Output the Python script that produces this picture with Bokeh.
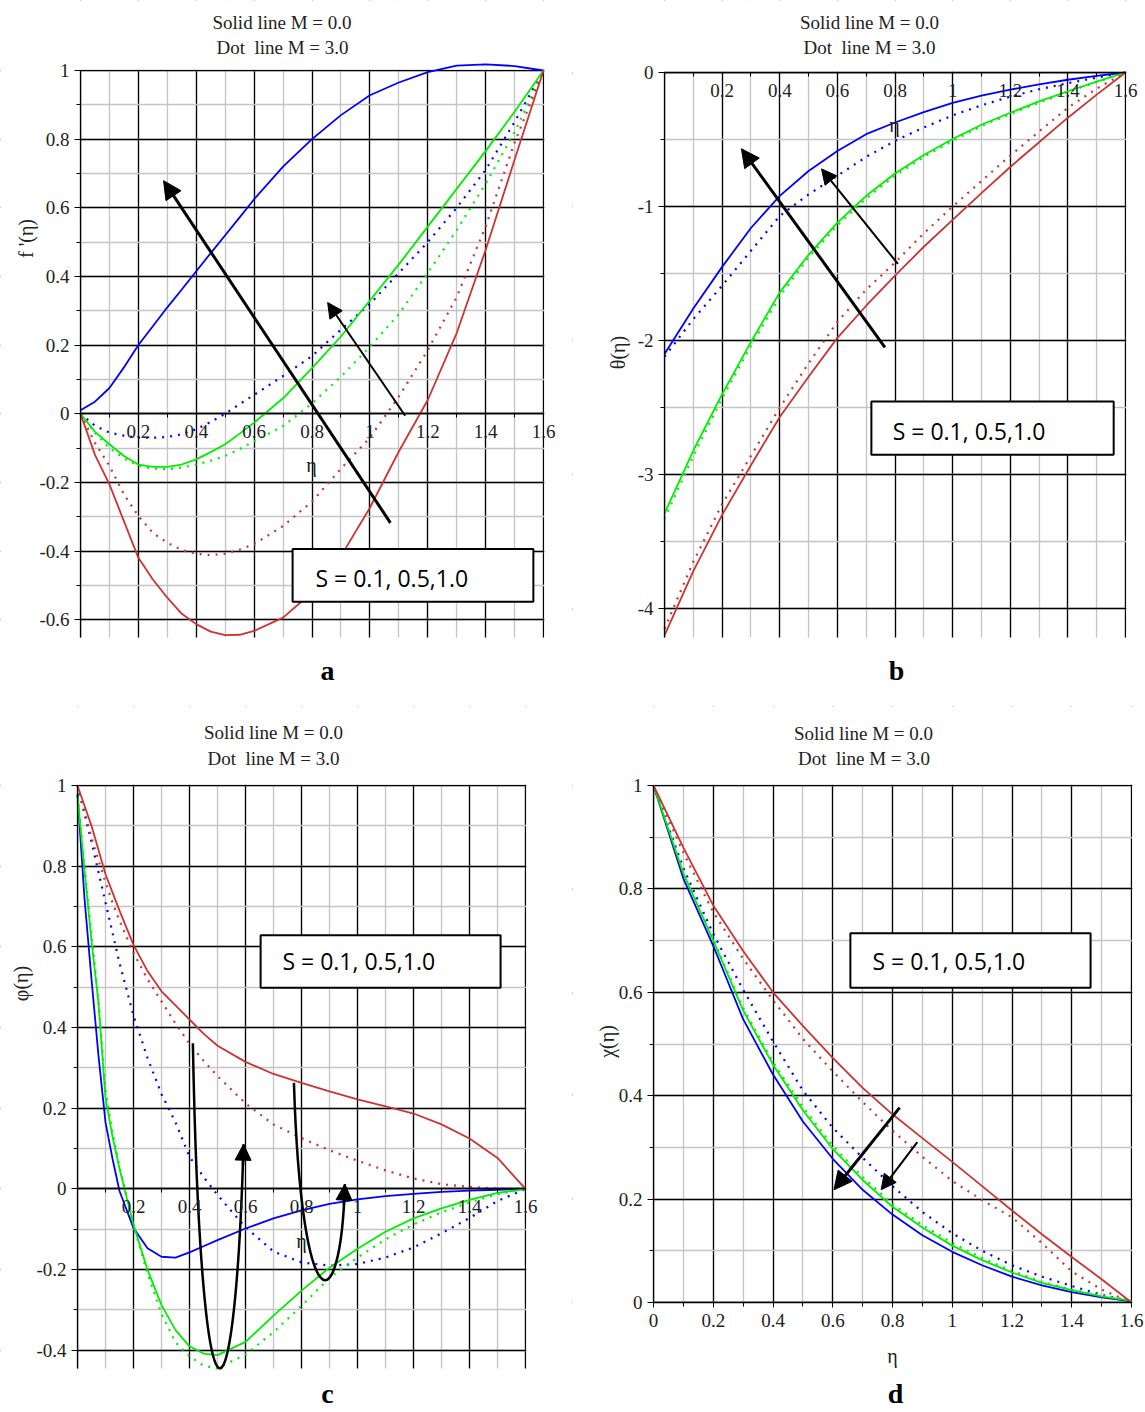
import numpy as np
from bokeh.plotting import figure
from bokeh.layouts import column, row
from bokeh.models import (Range1d, FixedTicker, BoxAnnotation, Label,
                          Arrow, NormalHead, CustomJSTickFormatter)
from bokeh.embed import file_html
from bokeh.resources import INLINE

# ---------------------------------------------------------------- data
eta = [0.0, 0.1, 0.2, 0.3, 0.4, 0.5, 0.6, 0.7, 0.8, 0.9, 1.0, 1.1, 1.2, 1.3, 1.4, 1.5, 1.6]

# (a) f'(eta)   M0 = solid (M = 0.0), M3 = dotted (M = 3.0)
eta_a = [0.0, 0.05, 0.1, 0.15, 0.2, 0.25, 0.3, 0.35, 0.4, 0.45, 0.5, 0.55, 0.6,
         0.7, 0.8, 0.9, 1.0, 1.1, 1.2, 1.3, 1.4, 1.5, 1.6]
a_blue_M0 = [0.01, 0.035, 0.075, 0.135, 0.2, 0.255, 0.31, 0.362, 0.415, 0.468, 0.52, 0.572, 0.625,
             0.72, 0.8, 0.87, 0.928, 0.965, 0.995, 1.014, 1.018, 1.013, 1.0]
a_green_M0 = [0.0, -0.053, -0.089, -0.123, -0.148, -0.155, -0.155, -0.148, -0.133, -0.112, -0.089, -0.058, -0.026,
              0.045, 0.133, 0.225, 0.33, 0.435, 0.545, 0.655, 0.765, 0.88, 1.0]
a_red_M0 = [0.0, -0.12, -0.206, -0.313, -0.42, -0.483, -0.536, -0.583, -0.613, -0.635, -0.645, -0.644, -0.633,
            -0.594, -0.521, -0.415, -0.274, -0.11, 0.04, 0.235, 0.477, 0.74, 1.0]
a_blue_M3 = [0.0, -0.035, -0.055, -0.064, -0.07, -0.07, -0.068, -0.06, -0.045, -0.024, 0.0, 0.028, 0.055,
             0.11, 0.168, 0.245, 0.32, 0.41, 0.5, 0.6, 0.71, 0.85, 1.0]
a_green_M3 = [0.0, -0.055, -0.1, -0.13, -0.152, -0.16, -0.162, -0.157, -0.148, -0.137, -0.123, -0.103, -0.08,
              -0.036, 0.03, 0.108, 0.195, 0.29, 0.41, 0.535, 0.67, 0.82, 1.0]
a_red_M3 = [0.0, -0.085, -0.152, -0.235, -0.298, -0.347, -0.376, -0.397, -0.408, -0.412, -0.408, -0.396, -0.38,
            -0.327, -0.256, -0.16, -0.07, 0.05, 0.185, 0.34, 0.545, 0.79, 1.0]

# (b) theta(eta)
b_blue_M0 = [-2.1, -1.76, -1.45, -1.16, -0.92, -0.735, -0.585, -0.46, -0.373, -0.295, -0.226, -0.172, -0.128, -0.088, -0.054, -0.025, 0.0]
b_green_M0 = [-3.29, -2.82, -2.40, -2.01, -1.64, -1.36, -1.12, -0.92, -0.754, -0.615, -0.496, -0.39, -0.30, -0.215, -0.14, -0.068, 0.0]
b_red_M0 = [-4.2, -3.72, -3.3, -2.93, -2.57, -2.27, -1.98, -1.74, -1.516, -1.3, -1.1, -0.9, -0.705, -0.52, -0.337, -0.165, 0.0]
b_blue_M3 = [-2.12, -1.84, -1.59, -1.33, -1.07, -0.91, -0.77, -0.63, -0.51, -0.41, -0.32, -0.245, -0.18, -0.125, -0.08, -0.038, 0.0]
b_green_M3 = [-3.33, -2.86, -2.43, -2.04, -1.67, -1.38, -1.14, -0.94, -0.77, -0.63, -0.51, -0.4, -0.31, -0.225, -0.145, -0.07, 0.0]
b_red_M3 = [-4.15, -3.65, -3.22, -2.86, -2.5, -2.17, -1.86, -1.62, -1.418, -1.2, -1.0, -0.81, -0.62, -0.44, -0.263, -0.12, 0.0]

# (c) phi(eta)  (finer steps near the wall)
eta_c = [0.0, 0.025, 0.05, 0.075, 0.1, 0.125, 0.15, 0.2, 0.25, 0.3, 0.35, 0.4, 0.45, 0.5,
         0.6, 0.7, 0.8, 0.9, 1.0, 1.1, 1.2, 1.3, 1.4, 1.5, 1.6]
c_blue_M0 = [0.98, 0.72, 0.52, 0.33, 0.165, 0.075, -0.005, -0.097, -0.147, -0.168, -0.17, -0.157, -0.142, -0.127,
             -0.098, -0.073, -0.053, -0.037, -0.026, -0.018, -0.012, -0.007, -0.004, -0.002, 0.0]
c_green_M0 = [0.975, 0.79, 0.615, 0.46, 0.225, 0.13, 0.05, -0.089, -0.2, -0.288, -0.35, -0.39, -0.408, -0.412,
              -0.379, -0.314, -0.252, -0.195, -0.148, -0.106, -0.073, -0.048, -0.027, -0.01, 0.0]
c_red_M0 = [1.0, 0.95, 0.9, 0.84, 0.78, 0.735, 0.69, 0.605, 0.54, 0.49, 0.455, 0.42, 0.385, 0.355,
            0.315, 0.285, 0.263, 0.242, 0.222, 0.205, 0.187, 0.16, 0.125, 0.077, 0.0]
c_blue_M3 = [1.0, 0.93, 0.86, 0.785, 0.71, 0.635, 0.56, 0.43, 0.325, 0.235, 0.165, 0.08, 0.03, -0.015,
             -0.095, -0.155, -0.182, -0.19, -0.186, -0.17, -0.145, -0.11, -0.072, -0.03, 0.0]
c_green_M3 = [0.975, 0.8, 0.63, 0.47, 0.245, 0.14, 0.055, -0.09, -0.21, -0.31, -0.38, -0.415, -0.438, -0.445,
              -0.41, -0.355, -0.29, -0.22, -0.17, -0.125, -0.088, -0.058, -0.033, -0.013, 0.0]
c_red_M3 = [1.0, 0.935, 0.87, 0.815, 0.76, 0.71, 0.665, 0.585, 0.52, 0.465, 0.41, 0.36, 0.318, 0.28,
            0.212, 0.16, 0.126, 0.096, 0.07, 0.046, 0.026, 0.012, 0.005, 0.001, 0.0]

# (d) chi(eta)
d_blue_M0 = [1.0, 0.82, 0.69, 0.548, 0.441, 0.35, 0.278, 0.218, 0.17, 0.13, 0.098, 0.072, 0.05, 0.033, 0.02, 0.01, 0.002]
d_green_M0 = [1.0, 0.83, 0.70, 0.565, 0.46, 0.372, 0.297, 0.237, 0.185, 0.145, 0.11, 0.082, 0.058, 0.038, 0.024, 0.012, 0.003]
d_red_M0 = [1.0, 0.88, 0.768, 0.68, 0.6, 0.535, 0.473, 0.415, 0.364, 0.318, 0.272, 0.225, 0.178, 0.132, 0.088, 0.045, 0.0]
d_blue_M3 = [1.0, 0.84, 0.713, 0.605, 0.505, 0.41, 0.338, 0.28, 0.225, 0.175, 0.134, 0.1, 0.072, 0.05, 0.032, 0.015, 0.002]
d_green_M3 = [1.0, 0.832, 0.703, 0.57, 0.465, 0.378, 0.303, 0.243, 0.19, 0.15, 0.115, 0.086, 0.061, 0.04, 0.025, 0.013, 0.003]
d_red_M3 = [1.0, 0.87, 0.755, 0.665, 0.585, 0.51, 0.447, 0.388, 0.332, 0.282, 0.235, 0.198, 0.165, 0.115, 0.06, 0.025, 0.0]

x_ticks_inner = [0.2, 0.4, 0.6, 0.8, 1.0, 1.2, 1.4, 1.6]
x_ticks_full = [0.0, 0.2, 0.4, 0.6, 0.8, 1.0, 1.2, 1.4, 1.6]
x_minor = [round(0.1 * i, 1) for i in range(17)]
title_lines = ["Solid line M = 0.0", "Dot\u00a0 line M = 3.0"]
legend_text = "S = 0.1, 0.5,1.0"

# ---------------------------------------------------------------- style
BLUE, GREEN, RED = "#0000ff", "#00ee00", "#cc3333"
SERIF = "Liberation Serif"
FMT = "return String(Math.round(tick*10)/10);"


class Panel:
    """Figure whose frame fills the canvas; the plotting box sits at pixels (L,R,T,B)."""

    def __init__(self, w, h, L, R, T, B, ytop, ybot, ymaj, ymin, xticks):
        self.L, self.T = L, T
        self.sx = (R - L) / 1.6
        self.sy = (B - T) / (ytop - ybot)
        self.ytop, self.ybot = ytop, ybot
        xr = Range1d(-L / self.sx, 1.6 + (w - R) / self.sx)
        yr = Range1d(ybot - (h - B) / self.sy, ytop + T / self.sy)
        p = figure(width=w, height=h, x_range=xr, y_range=yr, output_backend="svg",
                   toolbar_location=None, min_border=0)
        p.outline_line_color = None
        p.background_fill_color = "white"
        p.border_fill_color = "white"
        xt = FixedTicker(ticks=x_ticks_full, minor_ticks=x_minor)
        yt = FixedTicker(ticks=ymaj, minor_ticks=ymin)
        for g, t in ((p.xgrid, xt), (p.ygrid, yt)):
            g.ticker = t
            g.grid_line_color = "black"
            g.grid_line_width = 1.3
            g.minor_grid_line_color = "#c4c4c4"
            g.minor_grid_line_width = 1.3
        # white masks outside the plotting box (under the axes and curves)
        ex, ey = 0.8 / self.sx, 0.8 / self.sy
        for kw in (dict(right=0.0), dict(left=1.6 + ex), dict(bottom=ytop + ey), dict(top=ybot)):
            p.add_layout(BoxAnnotation(fill_color="white", fill_alpha=1.0, line_alpha=0.0,
                                       level="underlay", **kw))
        for ax in list(p.xaxis) + list(p.yaxis):
            ax.axis_line_color = "black"
            ax.axis_line_width = 1.3
            ax.major_tick_line_color = "black"
            ax.minor_tick_line_color = "black"
            ax.major_tick_in = 0
            ax.minor_tick_in = 0
            ax.major_label_text_font = SERIF
            ax.major_label_text_font_size = "19px"
            ax.major_label_text_color = "#222222"
            ax.formatter = CustomJSTickFormatter(code=FMT)
        p.yaxis.fixed_location = 0.0
        p.yaxis.bounds = (ybot, ytop)
        p.yaxis.ticker = yt
        p.yaxis.major_tick_out = 6
        p.yaxis.minor_tick_out = 4
        p.yaxis.major_label_standoff = 5
        p.xaxis.fixed_location = 0.0
        p.xaxis.bounds = (0.0, 1.6)
        p.xaxis.ticker = FixedTicker(ticks=xticks, minor_ticks=x_minor)
        p.xaxis.major_tick_out = 5
        p.xaxis.minor_tick_out = 4
        p.xaxis.major_label_standoff = 6
        self.p = p

    def dx(self, px):
        return (px - self.L) / self.sx

    def dy(self, py):
        return self.ytop - (py - self.T) / self.sy

    def curves(self, x, series):
        for y, col, dotted in series:
            if dotted:
                self.p.line(x, y, line_color=col, line_width=2.2, line_dash="2 6")
            else:
                self.p.line(x, y, line_color=col, line_width=1.8)

    def text(self, px, py, text, size="19px", bold=False, angle=0.0, font=SERIF,
             align="center", color="#222222"):
        self.p.add_layout(Label(x=self.dx(px), y=self.dy(py), text=text, text_font=font,
                                text_font_size=size, text_font_style="bold" if bold else "normal",
                                angle=angle, text_align=align, text_baseline="middle",
                                text_color=color))

    def decorate(self, t1, t2, ylab, letter, eta_lab):
        self.text(t1[0], t1[1], title_lines[0])
        self.text(t2[0], t2[1], title_lines[1])
        self.text(ylab[0], ylab[1], ylab[2], size="20px", angle=np.pi / 2)
        self.text(letter[0], letter[1], letter[2], size="28px", bold=True, color="black")
        self.text(eta_lab[0], eta_lab[1], "η", size="20px")

    def box(self, l, r, t, b, tx, ty):
        self.p.add_layout(BoxAnnotation(left=l, right=r, top=t, bottom=b, fill_color="white",
                                        fill_alpha=1.0, line_color="black", line_width=2,
                                        line_alpha=1.0))
        self.p.add_layout(Label(x=tx, y=ty, text=legend_text, text_font="Open Sans",
                                text_font_size="23px", text_align="left",
                                text_baseline="middle", text_color="black"))

    def arrow(self, xs, ys, xe, ye, width, head):
        self.p.add_layout(Arrow(end=NormalHead(size=head, fill_color="black", line_color="black",
                                               line_width=1),
                                x_start=xs, y_start=ys, x_end=xe, y_end=ye,
                                line_color="black", line_width=width))


# ---------------------------------------------------------------- panel a
A = Panel(572, 706, 80, 543, 70, 637, 1.0, -0.652,
          [-0.6, -0.4, -0.2, 0.0, 0.2, 0.4, 0.6, 0.8, 1.0],
          [round(-0.6 + 0.1 * i, 1) for i in range(17)], x_ticks_inner)
A.curves(eta_a, [(a_blue_M3, BLUE, True), (a_green_M3, GREEN, True), (a_red_M3, RED, True),
                 (a_blue_M0, BLUE, False), (a_green_M0, GREEN, False), (a_red_M0, RED, False)])
A.box(0.733, 1.565, -0.394, -0.548, 0.812, -0.478)
A.arrow(1.071, -0.318, 0.287, 0.679, 3, 18)
A.arrow(1.122, -0.006, 0.854, 0.324, 2, 15)
A.decorate((281.5, 21.7), (282, 46.7), (25, 238, "f '(η)"), (327, 670, "a"), (311, 464))

# ---------------------------------------------------------------- panel b
B = Panel(573, 706, 92, 553, 72, 637, 0.0, -4.215,
          [-4, -3, -2, -1, 0],
          [-4.0, -3.5, -3.0, -2.5, -2.0, -1.5, -1.0, -0.5, 0.0], x_ticks_inner)
B.curves(eta, [(b_blue_M3, BLUE, True), (b_green_M3, GREEN, True), (b_red_M3, RED, True),
               (b_blue_M0, BLUE, False), (b_green_M0, GREEN, False), (b_red_M0, RED, False)])
B.box(0.718, 1.559, -2.455, -2.851, 0.792, -2.672)
B.arrow(0.765, -2.05, 0.267, -0.569, 3, 18)
B.arrow(0.81, -1.428, 0.545, -0.719, 2, 15)
B.decorate((297, 22), (297, 47), (45, 352, "θ(η)"), (324, 670, "b"), (322, 124))

# ---------------------------------------------------------------- panel c
C = Panel(572, 706, 77, 525, 79, 662, 1.0, -0.445,
          [-0.4, -0.2, 0.0, 0.2, 0.4, 0.6, 0.8, 1.0],
          [round(-0.4 + 0.1 * i, 1) for i in range(15)], x_ticks_inner)
C.curves(eta_c, [(c_blue_M3, BLUE, True), (c_green_M3, GREEN, True), (c_red_M3, RED, True),
                 (c_blue_M0, BLUE, False), (c_green_M0, GREEN, False), (c_red_M0, RED, False)])
C.box(0.654, 1.511, 0.629, 0.499, 0.732, 0.564)
# U-shaped arrows
C.p.bezier(x0=[0.412, 0.773], y0=[0.361, 0.263], x1=[0.593, 0.955], y1=[0.111, 0.012],
           cx0=[0.44, 0.80], cy0=[-0.667, -0.339], cx1=[0.56, 0.94], cy1=[-0.667, -0.339],
           line_color="black", line_width=2.5)
C.arrow(0.591, 0.06, 0.593, 0.111, 2.5, 16)
C.arrow(0.951, -0.04, 0.955, 0.012, 2.5, 16)
C.decorate((273, 26), (273, 52), (20, 277, "φ(η)"), (327, 687, "c"), (301, 534))

# ---------------------------------------------------------------- panel d
D = Panel(573, 706, 81, 559, 79, 596, 1.0, 0.0,
          [0.0, 0.2, 0.4, 0.6, 0.8, 1.0],
          [round(0.1 * i, 1) for i in range(11)], x_ticks_full)
D.curves(eta, [(d_blue_M3, BLUE, True), (d_green_M3, GREEN, True), (d_red_M3, RED, True),
               (d_blue_M0, BLUE, False), (d_green_M0, GREEN, False), (d_red_M0, RED, False)])
D.box(0.659, 1.463, 0.714, 0.609, 0.733, 0.661)
D.arrow(0.824, 0.377, 0.604, 0.218, 3, 18)
D.arrow(0.883, 0.31, 0.762, 0.218, 2, 15)
D.decorate((291, 27), (291.5, 52), (34, 335, "χ(η)"), (323, 687, "d"), (320, 649))

layout = column(row(A.p, B.p), row(C.p, D.p))
open("out.html", "w").write(file_html(layout, INLINE))
